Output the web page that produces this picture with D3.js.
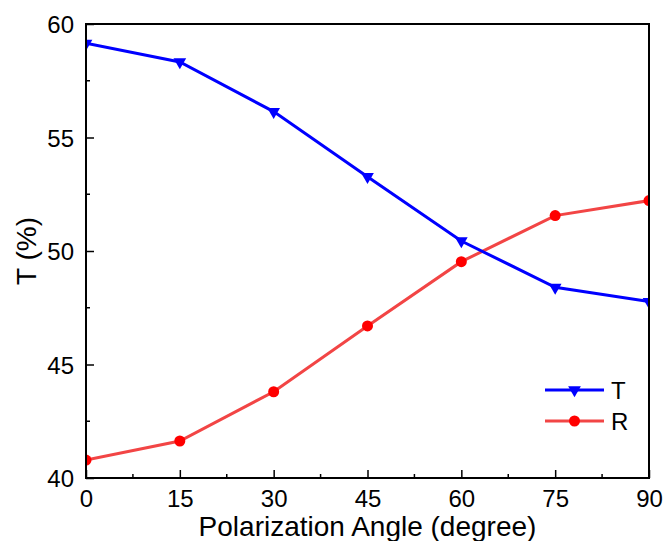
<!DOCTYPE html>
<html><head><meta charset="utf-8">
<script src="https://cdn.jsdelivr.net/npm/d3@7"></script>
<style>body{margin:0;background:#fff;} svg{display:block;font-family:Arial,"Liberation Sans",sans-serif;}</style>
</head><body>
<script>
const angles = [0, 15, 30, 45, 60, 75, 90];
const tValues = [59.15, 58.33, 56.14, 53.27, 50.44, 48.40, 47.77];
const rValues = [40.79, 41.63, 43.80, 46.70, 49.53, 51.56, 52.22];
const xTicks = [0, 15, 30, 45, 60, 75, 90];
const yTicks = [40, 45, 50, 55, 60];
const seriesNames = ["T", "R"];

const W = 664, H = 541;
const m = {l: 86, r: 15, t: 24, b: 63};
const svg = d3.select("body").append("svg").attr("width", W).attr("height", H);
const x = d3.scaleLinear().domain([0, 90]).range([m.l, W - m.r]);
const y = d3.scaleLinear().domain([40, 60]).range([H - m.b, m.t]);

svg.append("defs").append("clipPath").attr("id", "clip")
  .append("rect").attr("x", x(0)).attr("y", y(60)).attr("width", x(90) - x(0)).attr("height", y(40) - y(60));

const fs = 24;
// minor ticks
const xMinor = d3.range(7.5, 90, 15);
const yMinor = d3.range(42.5, 60, 5);
const g = svg.append("g");
g.selectAll(".xmin").data(xMinor).join("line")
  .attr("x1", d => x(d)).attr("x2", d => x(d)).attr("y1", y(40)).attr("y2", y(40) - 4)
  .attr("stroke", "#000").attr("stroke-width", 1.5);
g.selectAll(".ymin").data(yMinor).join("line")
  .attr("x1", x(0)).attr("x2", x(0) + 4).attr("y1", d => y(d)).attr("y2", d => y(d))
  .attr("stroke", "#000").attr("stroke-width", 1.5);

const xAxis = svg.append("g").attr("transform", `translate(0,${y(40)})`)
  .call(d3.axisBottom(x).tickValues(xTicks).tickSize(-8).tickPadding(12).tickSizeOuter(0));
const yAxis = svg.append("g").attr("transform", `translate(${x(0)},0)`)
  .call(d3.axisLeft(y).tickValues(yTicks).tickSize(-8).tickPadding(12).tickSizeOuter(0));
[xAxis, yAxis].forEach(a => {
  a.select(".domain").remove();
  a.selectAll(".tick line").attr("stroke", "#000").attr("stroke-width", 1.5);
  a.selectAll(".tick text").attr("font-size", fs).attr("fill", "#000").attr("font-family", "Arial, Liberation Sans, sans-serif");
});
yAxis.selectAll(".tick text").attr("dy", "0.36em");

// lines
const lineGen = vals => d3.line().x((d, i) => x(angles[i])).y(d => y(d))(vals);
const plot = svg.append("g").attr("clip-path", "url(#clip)");
plot.append("path").attr("d", lineGen(rValues)).attr("fill", "none").attr("stroke", "#f24545").attr("stroke-width", 3);
plot.append("path").attr("d", lineGen(tValues)).attr("fill", "none").attr("stroke", "#0000ff").attr("stroke-width", 3);

const tri = d3.symbol().type(d3.symbolTriangle).size(70);
plot.selectAll(".tm").data(tValues).join("path")
  .attr("d", tri).attr("transform", (d, i) => `translate(${x(angles[i])},${y(d)}) rotate(180)`).attr("fill", "#0000ff");
plot.selectAll(".rm").data(rValues).join("circle")
  .attr("cx", (d, i) => x(angles[i])).attr("cy", d => y(d)).attr("r", 5.5).attr("fill", "#ff0000");

// frame
svg.append("rect").attr("x", x(0)).attr("y", y(60)).attr("width", x(90) - x(0)).attr("height", y(40) - y(60))
  .attr("fill", "none").attr("stroke", "#000").attr("stroke-width", 2);

// legend
const lg = svg.append("g");
const legendY = [390, 421];
const colors = ["#0000ff", "#f24545"];
seriesNames.forEach((n, i) => {
  lg.append("line").attr("x1", 545).attr("x2", 604).attr("y1", legendY[i]).attr("y2", legendY[i])
    .attr("stroke", colors[i]).attr("stroke-width", 3);
  if (i === 0) lg.append("path").attr("d", tri).attr("transform", `translate(574.5,${legendY[i]}) rotate(180)`).attr("fill", "#0000ff");
  else lg.append("circle").attr("cx", 574.5).attr("cy", legendY[i]).attr("r", 5.5).attr("fill", "#ff0000");
  lg.append("text").attr("x", 611).attr("y", legendY[i]).attr("dy", "0.36em").attr("font-size", fs).text(n);
});

// axis titles
svg.append("text").attr("x", (x(0) + x(90)) / 2).attr("y", 536).attr("text-anchor", "middle")
  .attr("font-size", 28).text("Polarization Angle (degree)");
svg.append("text").attr("transform", `translate(36,${y(50)}) rotate(-90)`).attr("text-anchor", "middle")
  .attr("font-size", 28).text("T (%)");
</script>
</body></html>
